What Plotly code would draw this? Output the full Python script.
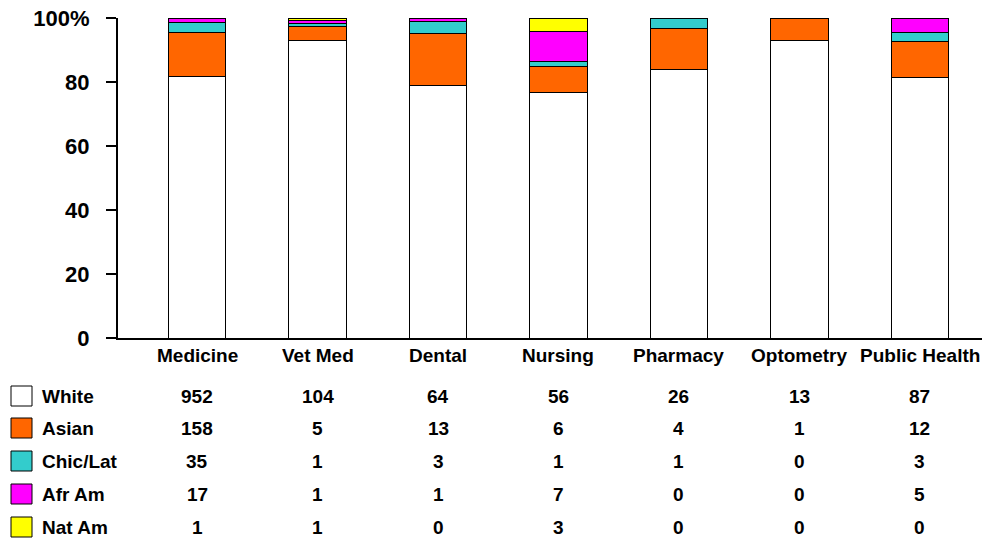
import plotly.graph_objects as go

# Data
schools = ["Medicine", "Vet Med", "Dental", "Nursing", "Pharmacy", "Optometry", "Public Health"]
groups = ["White", "Asian", "Chic/Lat", "Afr Am", "Nat Am"]
colors = ["#FFFFFF", "#FF6600", "#33CCCC", "#FF00FF", "#FFFF00"]

white = [952, 104, 64, 56, 26, 13, 87]
asian = [158, 5, 13, 6, 4, 1, 12]
chic_lat = [35, 1, 3, 1, 1, 0, 3]
afr_am = [17, 1, 1, 7, 0, 0, 5]
nat_am = [1, 1, 0, 3, 0, 0, 0]

counts = [white, asian, chic_lat, afr_am, nat_am]
totals = [sum(c[i] for c in counts) for i in range(len(schools))]

# Figure geometry (pixels)
W, H = 982, 539
L, R, T, B = 118, 0, 18, 201
PW, PH = W - L - R, H - T - B


def px_x(px):
    return (px - L) / PW


def px_y(py):
    return (H - B - py) / PH


FONT = "Liberation Sans, Arial, sans-serif"

fig = go.Figure()

for name, vals, col in zip(groups, counts, colors):
    pct = [100 * v / t for v, t in zip(vals, totals)]
    fig.add_trace(go.Bar(
        x=schools, y=pct, name=name,
        marker=dict(color=col, line=dict(color="black", width=1)),
        width=0.48,
        hovertemplate="%{x}<br>" + name + ": %{y:.1f}%<extra></extra>"
    ))

annotations = []
shapes = []

# Category labels
for s in schools:
    annotations.append(dict(
        x=s, xref="x", y=px_y(355), yref="paper", text="<b>%s</b>" % s,
        showarrow=False, font=dict(family=FONT, size=19, color="black"),
        xanchor="center", yanchor="middle"
    ))

# Data table rows with legend keys
row_y = [396, 428, 461, 494, 527]
for name, vals, col, ry in zip(groups, counts, colors, row_y):
    shapes.append(dict(
        type="rect", xref="paper", yref="paper",
        x0=px_x(11), x1=px_x(32), y0=px_y(ry - 10), y1=px_y(ry + 10),
        fillcolor=col, line=dict(color="black", width=1)
    ))
    annotations.append(dict(
        x=px_x(40), xref="paper", y=px_y(ry), yref="paper", text="<b>%s</b>" % name,
        showarrow=False, font=dict(family=FONT, size=19, color="black"),
        xanchor="left", yanchor="middle"
    ))
    for s, v in zip(schools, vals):
        annotations.append(dict(
            x=s, xref="x", y=px_y(ry), yref="paper", text="<b>%d</b>" % v,
            showarrow=False, font=dict(family=FONT, size=19, color="black"),
            xanchor="center", yanchor="middle"
        ))

fig.update_layout(
    width=W, height=H,
    barmode="stack",
    showlegend=False,
    plot_bgcolor="white",
    paper_bgcolor="white",
    margin=dict(l=L, r=R, t=T, b=B),
    xaxis=dict(
        type="category", range=[-0.656, 6.515],
        showticklabels=False, ticks="", showgrid=False, zeroline=False,
        showline=True, linecolor="black", linewidth=2
    ),
    yaxis=dict(
        range=[0, 100],
        tickvals=[0, 20, 40, 60, 80, 100],
        ticktext=["<b>0</b>", "<b>20</b>", "<b>40</b>", "<b>60</b>", "<b>80</b>", "<b>100%</b>"],
        tickfont=dict(family=FONT, size=22, color="black"),
        ticks="outside", ticklen=10, tickwidth=2, tickcolor="black",
        showgrid=False, zeroline=False,
        showline=True, linecolor="black", linewidth=2,
        ticklabelstandoff=12
    ),
    annotations=annotations,
    shapes=shapes,
)

# drop the page's default body margin so the figure fills the window exactly
fig.write_html("out.html", config={"displayModeBar": False},
               post_script="document.body.style.margin='0';")
